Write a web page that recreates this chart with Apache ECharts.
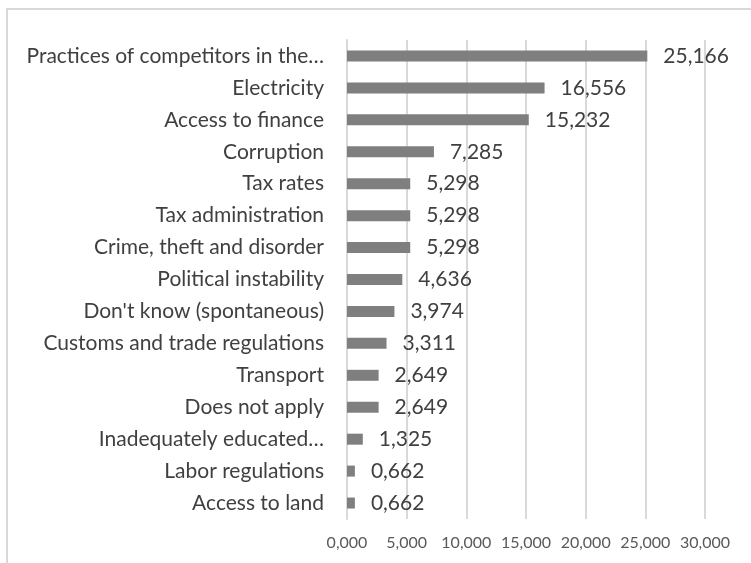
<!DOCTYPE html>
<html><head><meta charset="utf-8">
<script src="https://cdn.jsdelivr.net/npm/echarts@6/dist/echarts.min.js"></script>
<style>html,body{margin:0;padding:0;background:#fff}#c{width:751px;height:563px}</style>
</head><body><div id="c"></div>
<script>
var categories = ["Practices of competitors in the informal sector","Electricity","Access to finance","Corruption","Tax rates","Tax administration","Crime, theft and disorder","Political instability","Don't know (spontaneous)","Customs and trade regulations","Transport","Does not apply","Inadequately educated workforce","Labor regulations","Access to land"];
var values = [25.166,16.556,15.232,7.285,5.298,5.298,5.298,4.636,3.974,3.311,2.649,2.649,1.325,0.662,0.662];
var tickMax = 30, tickStep = 5;

function fmt(v){ return v.toFixed(3).replace('.', ','); }
function shortLabel(s){
  if (s === "Practices of competitors in the informal sector") return "Practices of competitors in the…";
  if (s === "Inadequately educated workforce") return "Inadequately educated…";
  return s;
}
var chart = echarts.init(document.getElementById('c'), null, {renderer:'canvas'});
var font = 'Lato, "Open Sans", sans-serif';
chart.setOption({
  animation:false,
  graphic:[{type:'rect', shape:{x:7, y:9, width:800, height:600}, style:{fill:'none', stroke:'#d9d9d9', lineWidth:2}, silent:true}],
  grid:{left:347, right:46, top:40, bottom:44, containLabel:false},
  xAxis:{type:'value', min:0, max:tickMax, interval:tickStep,
    axisLine:{show:false}, axisTick:{show:false},
    splitLine:{lineStyle:{color:'#d9d9d9', width:2}},
    axisLabel:{formatter:function(v){return fmt(v);}, color:'#595959', fontSize:16, fontFamily:font, margin:16}},
  yAxis:{type:'category', inverse:true, data:categories,
    axisLine:{show:true, lineStyle:{color:'#d9d9d9', width:2}}, axisTick:{show:false},
    axisLabel:{formatter:shortLabel, color:'#404040', fontSize:21, fontFamily:font, margin:23}},
  series:[{type:'bar', data:values, barWidth:11, itemStyle:{color:'#7f7f7f'},
    label:{show:true, position:'right', distance:16, formatter:function(p){return fmt(p.value);}, color:'#404040', fontSize:21, fontFamily:font}}]
});
</script></body></html>
